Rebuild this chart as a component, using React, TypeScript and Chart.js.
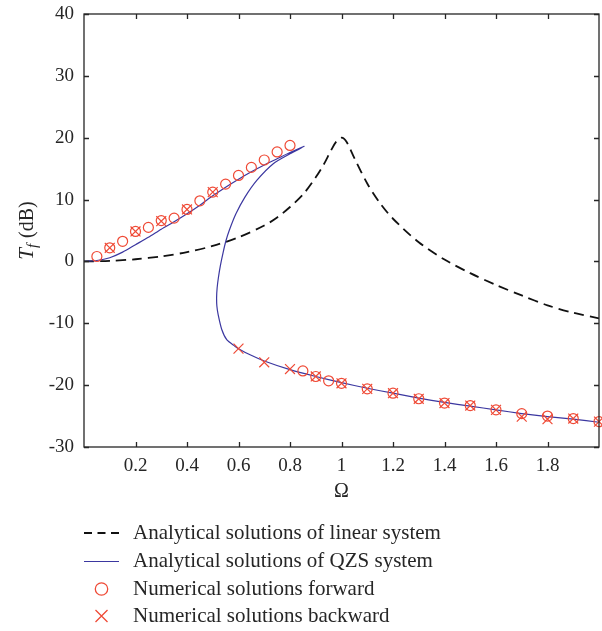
import { useEffect, useRef } from "react";
import { Chart, registerables } from "chart.js";

Chart.register(...registerables);

// Linear system transmissibility (dB) against frequency ratio Ω
const linearOmega = [0, 0.1, 0.2, 0.3, 0.4, 0.5, 0.6, 0.7, 0.75, 0.8, 0.85, 0.9, 0.93, 0.96, 0.98, 1.0, 1.02, 1.05, 1.1, 1.15, 1.2, 1.3, 1.4, 1.5, 1.6, 1.7, 1.8, 1.9, 2.0];
const linearDb = [0, 0.09, 0.35, 0.82, 1.5, 2.5, 3.9, 5.8, 7.1, 8.8, 10.8, 13.6, 15.6, 18.0, 19.4, 20.0, 19.3, 16.7, 12.6, 9.4, 6.9, 3.1, 0.3, -1.9, -3.8, -5.5, -7.1, -8.3, -9.2];

// QZS system: upper branch, turning back through the middle branch, then lower branch
const qzsOmega = [
  0, 0.05, 0.1, 0.15, 0.2, 0.25, 0.3, 0.35, 0.4, 0.45, 0.5, 0.55, 0.6, 0.65, 0.7, 0.75, 0.8, 0.855,
  0.8, 0.735, 0.671, 0.625, 0.59, 0.564, 0.551, 0.54, 0.53, 0.522, 0.517, 0.515, 0.516, 0.521, 0.535, 0.555, 0.586,
  0.6, 0.645, 0.7, 0.8, 0.9, 1.0, 1.1, 1.2, 1.3, 1.4, 1.5, 1.6, 1.7, 1.8, 1.9, 2.0,
];
const qzsDb = [
  0, 0.15, 0.6, 1.5, 2.7, 3.9, 5.2, 6.4, 7.7, 9.1, 10.6, 12.0, 13.3, 14.5, 15.6, 16.6, 17.6, 18.6,
  17.4, 15.8, 13.1, 10.4, 7.7, 5.0, 3.3, 1.4, -0.6, -2.6, -4.3, -5.8, -7.2, -8.6, -11.0, -12.7, -13.7,
  -14.1, -15.1, -16.1, -17.5, -18.6, -19.6, -20.5, -21.3, -22.1, -22.8, -23.4, -24.0, -24.6, -25.1, -25.5, -26.0,
];

// Numerical solutions, forward frequency sweep
const forwardOmega = [0.05, 0.1, 0.15, 0.2, 0.25, 0.3, 0.35, 0.4, 0.45, 0.5, 0.55, 0.6, 0.65, 0.7, 0.75, 0.8, 0.85, 0.9, 0.95, 1.0, 1.1, 1.2, 1.3, 1.4, 1.5, 1.6, 1.7, 1.8, 1.9, 2.0];
const forwardDb = [0.8, 2.2, 3.25, 4.85, 5.5, 6.6, 7.0, 8.4, 9.8, 11.2, 12.5, 13.9, 15.2, 16.4, 17.7, 18.75, -17.7, -18.6, -19.3, -19.7, -20.6, -21.3, -22.2, -22.9, -23.3, -24.0, -24.6, -25.0, -25.4, -25.9];

// Numerical solutions, backward frequency sweep
const backwardOmega = [0.1, 0.2, 0.3, 0.4, 0.5, 0.6, 0.7, 0.8, 0.9, 1.0, 1.1, 1.2, 1.3, 1.4, 1.5, 1.6, 1.7, 1.8, 1.9, 2.0];
const backwardDb = [2.2, 4.85, 6.5, 8.4, 11.2, -14.1, -16.3, -17.4, -18.6, -19.7, -20.6, -21.3, -22.2, -22.9, -23.3, -24.0, -25.1, -25.5, -25.4, -25.9];

const xTickValues = [0.2, 0.4, 0.6, 0.8, 1.0, 1.2, 1.4, 1.6, 1.8];
const xTickLabels = ["0.2", "0.4", "0.6", "0.8", "1", "1.2", "1.4", "1.6", "1.8"];
const yTickValues = [-30, -20, -10, 0, 10, 20, 30, 40];
const yTickLabels = ["-30", "-20", "-10", "0", "10", "20", "30", "40"];

const legendLabels = [
  "Analytical solutions of linear system",
  "Analytical solutions of QZS system",
  "Numerical solutions forward",
  "Numerical solutions backward",
];

const SERIF = "'Liberation Serif', 'Times New Roman', serif";
const INK = "#262626";
const RED = "#ef4a36";
const BLUE = "#3b37a0";

const toPoints = (xs: number[], ys: number[]) => xs.map((x, i) => ({ x, y: ys[i] }));

const decorations = {
  id: "decorations",
  afterDraw(chart: any) {
    const { ctx, chartArea: a, scales } = chart;
    const xs = scales.x;
    const ys = scales.y;
    ctx.save();

    // axes box with inward ticks on all four sides
    ctx.strokeStyle = INK;
    ctx.lineWidth = 1.3;
    ctx.strokeRect(a.left, a.top, a.right - a.left, a.bottom - a.top);
    ctx.beginPath();
    for (const v of xTickValues) {
      const px = Math.round(xs.getPixelForValue(v)) + 0.5;
      ctx.moveTo(px, a.bottom);
      ctx.lineTo(px, a.bottom - 5);
      ctx.moveTo(px, a.top);
      ctx.lineTo(px, a.top + 5);
    }
    for (const v of yTickValues) {
      const py = Math.round(ys.getPixelForValue(v)) + 0.5;
      ctx.moveTo(a.left, py);
      ctx.lineTo(a.left + 5, py);
      ctx.moveTo(a.right, py);
      ctx.lineTo(a.right - 5, py);
    }
    ctx.stroke();

    // x axis title
    ctx.fillStyle = INK;
    ctx.font = `20px ${SERIF}`;
    ctx.textAlign = "center";
    ctx.textBaseline = "middle";
    ctx.fillText("Ω", (a.left + a.right) / 2, 492);

    // y axis title: T_f (dB)
    ctx.save();
    ctx.translate(26, (a.top + a.bottom) / 2);
    ctx.rotate(-Math.PI / 2);
    ctx.textBaseline = "alphabetic";
    ctx.textAlign = "left";
    const tFont = `italic 21px ${SERIF}`;
    const fFont = `italic 15px ${SERIF}`;
    const dFont = `20px ${SERIF}`;
    ctx.font = tFont;
    const wT = ctx.measureText("T").width;
    ctx.font = fFont;
    const wF = ctx.measureText("f").width;
    ctx.font = dFont;
    const wD = ctx.measureText(" (dB)").width;
    let cx = -(wT + wF + 1 + wD) / 2;
    const base = 7;
    ctx.font = tFont;
    ctx.fillText("T", cx, base);
    cx += wT;
    ctx.font = fFont;
    ctx.fillText("f", cx, base + 4);
    cx += wF + 1;
    ctx.font = dFont;
    ctx.fillText(" (dB)", cx, base);
    ctx.restore();

    // legend
    const rows = [533, 561.5, 589, 616];
    const symL = 84;
    const symR = 119;
    const symC = 101.5;
    ctx.font = `21px ${SERIF}`;
    ctx.textAlign = "left";
    ctx.textBaseline = "middle";
    rows.forEach((ry, i) => {
      ctx.save();
      if (i === 0) {
        ctx.strokeStyle = "#111";
        ctx.lineWidth = 1.8;
        ctx.setLineDash([8, 5.5]);
        ctx.beginPath();
        ctx.moveTo(symL, ry);
        ctx.lineTo(symR, ry);
        ctx.stroke();
      } else if (i === 1) {
        ctx.strokeStyle = BLUE;
        ctx.lineWidth = 1.2;
        ctx.beginPath();
        ctx.moveTo(symL, ry);
        ctx.lineTo(symR, ry);
        ctx.stroke();
      } else if (i === 2) {
        ctx.strokeStyle = RED;
        ctx.lineWidth = 1.3;
        ctx.beginPath();
        ctx.arc(symC, ry, 6.2, 0, Math.PI * 2);
        ctx.stroke();
      } else {
        ctx.strokeStyle = RED;
        ctx.lineWidth = 1.3;
        ctx.beginPath();
        ctx.moveTo(symC - 6, ry - 6);
        ctx.lineTo(symC + 6, ry + 6);
        ctx.moveTo(symC - 6, ry + 6);
        ctx.lineTo(symC + 6, ry - 6);
        ctx.stroke();
      }
      ctx.restore();
      ctx.fillStyle = INK;
      ctx.fillText(legendLabels[i], 133, ry);
    });

    ctx.restore();
  },
};

export default function App() {
  const canvasRef = useRef<HTMLCanvasElement | null>(null);

  useEffect(() => {
    const canvas = canvasRef.current;
    if (!canvas) return;
    const chart = new Chart(canvas, {
      type: "scatter",
      data: {
        datasets: [
          {
            label: legendLabels[0],
            data: toPoints(linearOmega, linearDb),
            showLine: true,
            borderColor: "#111",
            borderWidth: 1.8,
            borderDash: [10, 6],
            pointRadius: 0,
            tension: 0.3,
            order: 2,
          },
          {
            label: legendLabels[1],
            data: toPoints(qzsOmega, qzsDb),
            showLine: true,
            borderColor: BLUE,
            borderWidth: 1.2,
            pointRadius: 0,
            tension: 0.25,
            order: 1,
          },
          {
            label: legendLabels[2],
            data: toPoints(forwardOmega, forwardDb),
            pointStyle: "circle",
            pointRadius: 5,
            pointBorderWidth: 1.2,
            pointBorderColor: RED,
            pointBackgroundColor: "rgba(0,0,0,0)",
            clip: false,
            order: 0,
          },
          {
            label: legendLabels[3],
            data: toPoints(backwardOmega, backwardDb),
            pointStyle: "crossRot",
            pointRadius: 7,
            pointBorderWidth: 1.2,
            pointBorderColor: RED,
            pointBackgroundColor: RED,
            clip: false,
            order: 0,
          },
        ],
      },
      options: {
        responsive: false,
        animation: false,
        events: [],
        layout: { autoPadding: false, padding: { top: 14, right: 3, bottom: 0, left: 0 } },
        plugins: {
          legend: { display: false },
          tooltip: { enabled: false },
          title: { display: false },
        },
        scales: {
          x: {
            type: "linear",
            min: 0,
            max: 2,
            grid: { display: false, drawTicks: false },
            border: { display: false },
            afterBuildTicks: (scale: any) => {
              scale.ticks = xTickValues.map((value) => ({ value }));
            },
            afterFit: (scale: any) => {
              scale.height = 184;
              scale.paddingLeft = 0;
              scale.paddingRight = 0;
            },
            ticks: {
              autoSkip: false,
              maxRotation: 0,
              padding: 8,
              color: INK,
              font: { family: SERIF, size: 19 },
              callback: (_v: any, i: number) => xTickLabels[i],
            },
          },
          y: {
            type: "linear",
            min: -30,
            max: 40,
            grid: { display: false, drawTicks: false },
            border: { display: false },
            afterBuildTicks: (scale: any) => {
              scale.ticks = yTickValues.map((value) => ({ value }));
            },
            afterFit: (scale: any) => {
              scale.width = 84;
              scale.paddingTop = 0;
              scale.paddingBottom = 0;
            },
            ticks: {
              autoSkip: false,
              padding: 10,
              color: INK,
              font: { family: SERIF, size: 19 },
              callback: (_v: any, i: number) => yTickLabels[i],
            },
          },
        },
      },
      plugins: [decorations],
    });
    return () => chart.destroy();
  }, []);

  return (
    <div style={{ position: "absolute", left: 0, top: 0, width: 602, height: 631, background: "#fff" }}>
      <canvas ref={canvasRef} width={602} height={631} style={{ display: "block", width: 602, height: 631 }} />
    </div>
  );
}
